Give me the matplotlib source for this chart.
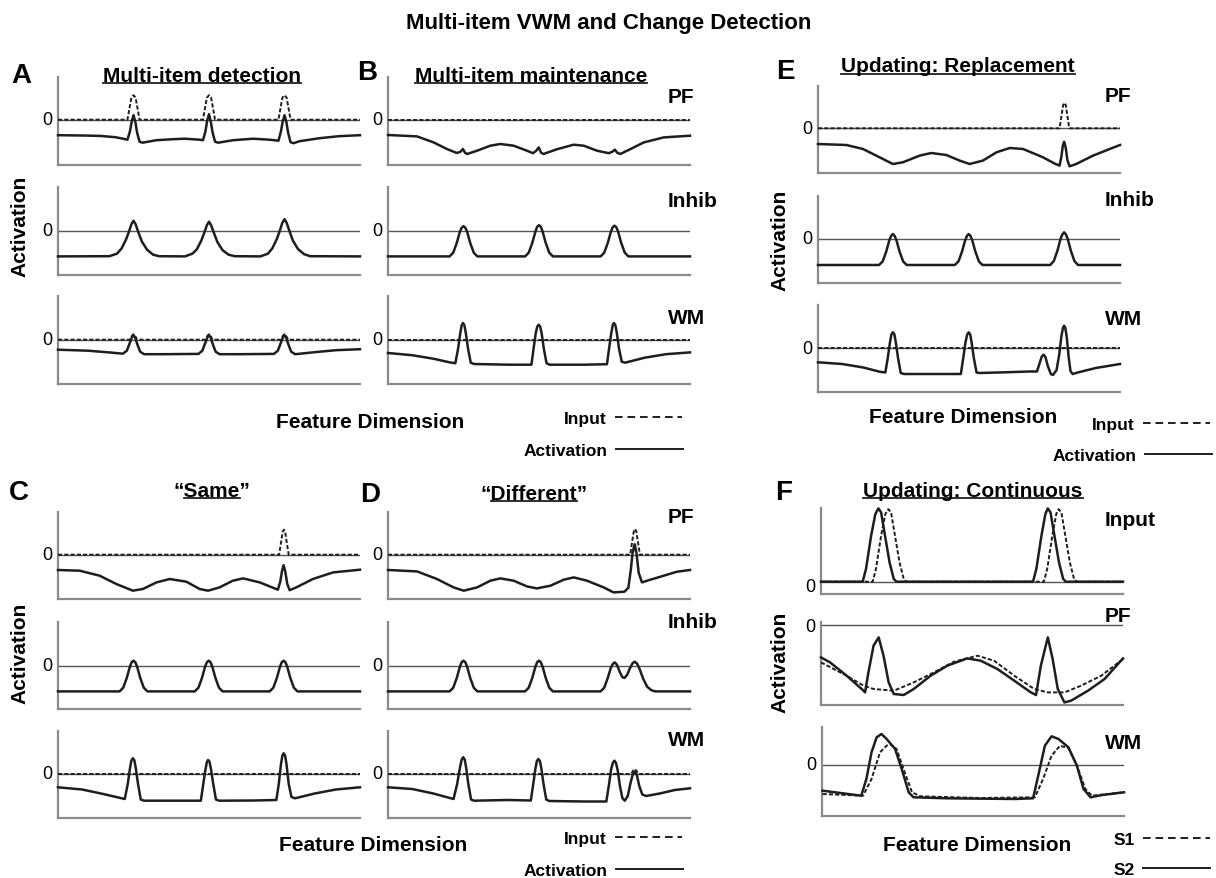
import matplotlib
matplotlib.use('Agg')
import matplotlib.pyplot as plt
from matplotlib.lines import Line2D

plt.rcParams['font.family'] = ['Liberation Sans', 'DejaVu Sans']
plt.rcParams['lines.scale_dashes'] = False

W, H = 1216, 879
INK = '#1e1e1e'
SPINE = '#8a8a8a'
ZERO = '#555555'

# ---- curve data: (feature position 0..100, activation) ----
FLAT = [(0, 0), (100, 0)]

# A: multi-item detection
A_PF_ACT = [(0, -1.55), (8, -1.58), (14, -1.62), (19, -1.75), (21.5, -1.9), (23.0, -2.0), (23.8, -1.2),
            (24.4, -0.2), (25.0, 0.45), (25.6, -0.2), (26.2, -1.3), (27.0, -2.2), (28.0, -2.3), (32.6, -2.05),
            (38, -1.95), (42, -1.9), (46.9, -2.0), (48.0, -2.05), (48.8, -1.2), (49.4, -0.1), (50.0, 0.55),
            (50.6, -0.2), (51.2, -1.3), (52.0, -2.2), (53.0, -2.3), (58, -2.05), (64.6, -1.9), (70, -2.0),
            (73.0, -2.1), (73.8, -1.2), (74.4, -0.2), (75.0, 0.45), (75.6, -0.2), (76.2, -1.3), (77.0, -2.25),
            (78.0, -2.35), (80, -2.15), (86.6, -1.85), (93, -1.65), (100, -1.55)]
A_PF_INP = [(0, 0), (23.0, 0), (23.7, 1.2), (24.3, 2.2), (25.0, 2.45), (25.7, 2.2), (26.3, 1.2), (27.0, 0),
            (48.0, 0), (48.7, 1.2), (49.3, 2.2), (50.0, 2.45), (50.7, 2.2), (51.3, 1.2), (52.0, 0),
            (73.0, 0), (73.7, 1.2), (74.3, 2.2), (75.0, 2.45), (75.7, 2.2), (76.3, 1.2), (77.0, 0), (100, 0)]
A_INH_ACT = [(0, -2.57), (17, -2.55), (19.5, -2.3), (21, -1.8), (22.5, -0.9), (23.5, -0.1), (24.3, 0.65),
             (25, 1.0), (25.7, 0.65), (26.6, -0.15), (27.8, -1.1), (29.5, -1.9), (31.5, -2.4), (33.5, -2.55),
             (42, -2.57), (44.5, -2.3), (46, -1.85), (47.5, -0.95), (48.5, -0.15), (49.3, 0.55), (50, 0.9),
             (50.7, 0.55), (51.6, -0.2), (52.8, -1.15), (54.5, -1.95), (56.5, -2.4), (58.5, -2.55),
             (67, -2.57), (69.5, -2.3), (71, -1.75), (72.5, -0.8), (73.5, 0.05), (74.3, 0.8), (75, 1.15),
             (75.7, 0.8), (76.6, 0.0), (77.8, -1.0), (79.5, -1.85), (81.5, -2.35), (83.5, -2.55), (100, -2.57)]
A_WM_ACT = [(0, -1.0), (10, -1.1), (18, -1.3), (21.5, -1.4), (22.8, -1.1), (23.8, -0.3), (24.5, 0.25),
            (25, 0.45), (25.5, 0.25), (26.2, -0.4), (27.2, -1.2), (28.5, -1.45), (35, -1.45), (46.5, -1.42),
            (47.8, -1.1), (48.8, -0.3), (49.5, 0.25), (50, 0.45), (50.5, 0.25), (51.2, -0.4), (52.2, -1.2),
            (53.5, -1.45), (60, -1.45), (71.5, -1.42), (72.8, -1.1), (73.8, -0.3), (74.5, 0.25), (75, 0.45),
            (75.5, 0.25), (76.2, -0.4), (77.2, -1.2), (78.5, -1.45), (85, -1.25), (92, -1.05), (100, -0.95)]
A_WM_INP = [(0, 0), (23.8, 0), (24.5, 0.4), (25, 0.55), (25.5, 0.4), (26.2, 0), (48.8, 0), (49.5, 0.4),
            (50, 0.55), (50.5, 0.4), (51.2, 0), (73.8, 0), (74.5, 0.4), (75, 0.55), (75.5, 0.4), (76.2, 0),
            (100, 0)]

# B: multi-item maintenance
B_PF_ACT = [(0, -1.53), (9.6, -1.67), (15.1, -2.27), (19.5, -2.93), (22.8, -3.33), (24.0, -3.2),
            (24.8, -2.93), (25.5, -3.3), (26.2, -3.43), (29.5, -3.1), (33.9, -2.6), (37.2, -2.43),
            (41.6, -2.6), (46, -3.1), (48, -3.35), (49.1, -3.1), (49.9, -2.77), (50.7, -3.3), (51.5, -3.43),
            (56, -2.95), (61.5, -2.5), (64.8, -2.6), (69.2, -3.1), (73.1, -3.35), (74.3, -3.2), (75.1, -3.0),
            (75.9, -3.3), (76.9, -3.43), (80.2, -2.95), (84.7, -2.27), (91.3, -1.77), (100, -1.6)]
B_INH_ACT = [(0, -2.57), (20.4, -2.57), (21.6, -2.2), (22.8, -1.2), (23.8, -0.1), (24.4, 0.3), (25, 0.45),
             (25.6, 0.3), (26.2, -0.1), (27.2, -1.2), (28.4, -2.2), (29.6, -2.57), (45.4, -2.57), (46.6, -2.2),
             (47.8, -1.2), (48.8, -0.1), (49.4, 0.4), (50, 0.55), (50.6, 0.4), (51.2, -0.1), (52.2, -1.2),
             (53.4, -2.2), (54.6, -2.57), (70.4, -2.57), (71.6, -2.2), (72.8, -1.2), (73.8, -0.1), (74.4, 0.35),
             (75, 0.5), (75.6, 0.35), (76.2, -0.1), (77.2, -1.2), (78.4, -2.2), (79.6, -2.57), (100, -2.57)]
B_WM_ACT = [(0, -1.33), (8, -1.55), (15, -1.9), (20.5, -2.27), (22.3, -2.35), (23.2, -0.9), (23.9, 0.6),
            (24.4, 1.45), (24.8, 1.67), (25.3, 1.45), (25.8, 0.6), (26.5, -0.9), (27.4, -2.3), (28.5, -2.43),
            (40, -2.5), (47.5, -2.5), (48.2, -0.9), (48.9, 0.6), (49.4, 1.3), (49.9, 1.5), (50.4, 1.3),
            (50.9, 0.6), (51.6, -0.9), (52.5, -2.35), (53.5, -2.5), (65, -2.5), (72.5, -2.45), (73.2, -0.9),
            (73.9, 0.6), (74.4, 1.45), (74.8, 1.67), (75.3, 1.45), (75.8, 0.6), (76.5, -0.9), (77.4, -2.2),
            (78.5, -2.3), (85, -1.8), (92, -1.45), (100, -1.27)]

# C: "Same"
C_PF_ACT = [(0, -1.53), (7.2, -1.6), (13.8, -2.1), (19.3, -2.93), (24.8, -3.6), (28.1, -3.43), (32.6, -2.77),
            (37, -2.43), (42.5, -2.7), (46.9, -3.43), (49.7, -3.6), (53.5, -3.27), (57.9, -2.6), (61.3, -2.37),
            (66.8, -2.77), (72.8, -3.5), (73.6, -2.7), (74.2, -1.6), (74.7, -1.05), (75.2, -1.6), (75.9, -2.9),
            (76.7, -3.55), (78.9, -3.27), (84.4, -2.43), (91.1, -1.77), (100, -1.5)]
C_PF_INP = [(0, 0), (73.2, 0), (73.9, 1.3), (74.4, 2.3), (74.8, 2.5), (75.2, 2.3), (75.7, 1.3), (76.4, 0),
            (100, 0)]
C_INH_ACT = [(0, -2.57), (20.4, -2.57), (21.6, -2.2), (22.8, -1.2), (23.8, -0.1), (24.4, 0.35), (25, 0.5),
             (25.6, 0.35), (26.2, -0.1), (27.2, -1.2), (28.4, -2.2), (29.6, -2.57), (45.3, -2.57), (46.5, -2.2),
             (47.7, -1.2), (48.7, -0.1), (49.3, 0.35), (49.9, 0.5), (50.5, 0.35), (51.1, -0.1), (52.1, -1.2),
             (53.3, -2.2), (54.5, -2.57), (70.1, -2.57), (71.3, -2.2), (72.5, -1.2), (73.5, -0.1), (74.1, 0.35),
             (74.7, 0.5), (75.3, 0.35), (75.9, -0.1), (76.9, -1.2), (78.1, -2.2), (79.3, -2.57), (100, -2.57)]
C_WM_ACT = [(0, -1.33), (8, -1.55), (15, -2.0), (22.1, -2.5), (23.1, -1.0), (23.8, 0.5), (24.3, 1.35),
            (24.8, 1.57), (25.3, 1.35), (25.8, 0.5), (26.5, -1.0), (27.4, -2.55), (28.5, -2.67), (40, -2.67),
            (47.3, -2.67), (48.1, -1.0), (48.8, 0.4), (49.3, 1.2), (49.7, 1.4), (50.2, 1.2), (50.7, 0.4),
            (51.4, -1.0), (52.3, -2.55), (53.3, -2.67), (65, -2.65), (72.3, -2.6), (73.1, -1.0), (73.8, 0.9),
            (74.3, 1.85), (74.7, 2.07), (75.2, 1.85), (75.7, 0.9), (76.4, -1.0), (77.3, -2.3), (78.5, -2.43),
            (85, -1.95), (92, -1.55), (100, -1.33)]

# D: "Different"
D_PF_ACT = [(0, -1.53), (9.6, -1.67), (16.2, -2.43), (21.7, -3.27), (25.1, -3.6), (29.5, -3.27), (33.9, -2.6),
            (37.2, -2.37), (41.6, -2.6), (46, -3.17), (49.3, -3.37), (53.8, -3.1), (58.2, -2.5), (61.5, -2.27),
            (65.9, -2.6), (71.4, -3.27), (74.7, -3.77), (78.3, -3.7), (79.6, -3.3), (80.4, -1.5), (81.0, 0.2),
            (81.7, 1.05), (82.3, 0.1), (83.0, -1.8), (84.1, -2.77), (85.8, -2.6), (91.3, -2.1), (95.7, -1.7),
            (100, -1.53)]
D_PF_INP = [(0, 0), (80.2, 0), (80.9, 1.4), (81.4, 2.35), (81.8, 2.57), (82.2, 2.35), (82.7, 1.4), (83.4, 0),
            (100, 0)]
D_INH_ACT = [(0, -2.57), (20.4, -2.57), (21.6, -2.2), (22.8, -1.2), (23.8, -0.1), (24.4, 0.35), (25, 0.5),
             (25.6, 0.35), (26.2, -0.1), (27.2, -1.2), (28.4, -2.2), (29.6, -2.57), (45.4, -2.57), (46.6, -2.2),
             (47.8, -1.2), (48.8, -0.1), (49.4, 0.35), (50, 0.5), (50.6, 0.35), (51.2, -0.1), (52.2, -1.2),
             (53.4, -2.2), (54.6, -2.57), (70.4, -2.57), (71.6, -2.2), (72.8, -1.2), (73.8, -0.2), (74.5, 0.2),
             (75.1, 0.33), (75.8, 0.1), (76.7, -0.6), (77.6, -1.15), (78.3, -1.23), (79.2, -0.9), (80.2, -0.2),
             (81.0, 0.25), (81.7, 0.4), (82.5, 0.2), (83.4, -0.4), (84.5, -1.3), (85.8, -2.1), (87.2, -2.45),
             (88.5, -2.57), (100, -2.57)]
D_WM_ACT = [(0, -1.33), (8, -1.5), (15, -1.95), (21.7, -2.5), (22.9, -1.0), (23.8, 0.6), (24.4, 1.45),
            (24.9, 1.67), (25.4, 1.45), (25.9, 0.6), (26.6, -1.0), (27.5, -2.55), (28.5, -2.67), (40, -2.6),
            (47.3, -2.65), (48.1, -1.0), (48.8, 0.5), (49.3, 1.3), (49.8, 1.5), (50.3, 1.3), (50.8, 0.5),
            (51.5, -1.0), (52.4, -2.55), (53.4, -2.7), (65, -2.75), (72.3, -2.75), (73.2, -1.0), (73.9, 0.5),
            (74.5, 1.15), (75.0, 1.33), (75.5, 1.1), (76.1, 0.3), (76.8, -1.2), (77.6, -2.4), (78.4, -2.67),
            (79.4, -2.2), (80.3, -0.9), (81.0, -0.1), (81.7, 0.23), (82.4, -0.1), (83.2, -1.2), (84.2, -2.05),
            (85.5, -2.2), (90, -1.95), (95, -1.6), (100, -1.43)]
D_WM_INP = [(0, 0), (80.5, 0), (81.2, 0.35), (81.7, 0.5), (82.2, 0.35), (82.9, 0), (100, 0)]

# E: updating, replacement
E_PF_ACT = [(0, -1.57), (9.4, -1.67), (14.9, -2.07), (20.4, -2.9), (24.8, -3.57), (28.1, -3.4), (33.7, -2.73),
            (37.5, -2.47), (42.5, -2.67), (46.9, -3.23), (50.2, -3.57), (54.6, -3.23), (59.1, -2.4),
            (63.5, -1.97), (67.9, -2.07), (74.5, -2.9), (78.5, -3.55), (80.0, -3.73), (80.6, -2.8),
            (81.1, -1.7), (81.5, -1.35), (82.0, -1.9), (82.6, -3.2), (83.3, -3.8), (85.5, -3.57),
            (91.1, -2.73), (96.6, -2.07), (100, -1.67)]
E_PF_INP = [(0, 0), (80.0, 0), (80.7, 1.4), (81.2, 2.35), (81.6, 2.55), (82.0, 2.35), (82.5, 1.4), (83.2, 0),
            (100, 0)]
E_INH_ACT = [(0, -2.6), (20.2, -2.6), (21.4, -2.25), (22.6, -1.25), (23.6, -0.15), (24.2, 0.3), (24.8, 0.5),
             (25.4, 0.3), (26.0, -0.15), (27.0, -1.25), (28.2, -2.25), (29.4, -2.6), (45.3, -2.6), (46.5, -2.25),
             (47.7, -1.25), (48.7, -0.15), (49.3, 0.3), (49.9, 0.5), (50.5, 0.3), (51.1, -0.15), (52.1, -1.25),
             (53.3, -2.25), (54.5, -2.6), (76.9, -2.6), (78.1, -2.2), (79.3, -1.15), (80.3, 0.0), (80.9, 0.45),
             (81.5, 0.67), (82.1, 0.45), (82.7, 0.0), (83.7, -1.15), (84.9, -2.2), (86.1, -2.6), (100, -2.6)]
E_WM_ACT = [(0, -1.43), (8, -1.6), (15, -1.95), (20.4, -2.37), (22.3, -2.45), (23.1, -1.0), (23.8, 0.5),
            (24.3, 1.35), (24.8, 1.57), (25.3, 1.35), (25.8, 0.5), (26.5, -1.0), (27.4, -2.5), (28.5, -2.6),
            (40, -2.6), (47.3, -2.6), (48.1, -1.0), (48.8, 0.5), (49.4, 1.35), (49.9, 1.57), (50.4, 1.35),
            (50.9, 0.5), (51.6, -1.0), (52.5, -2.45), (53.5, -2.5), (62, -2.43), (70, -2.35), (72.5, -2.35),
            (73.4, -1.5), (74.1, -0.85), (74.7, -0.67), (75.3, -0.9), (76.1, -1.8), (77.1, -2.6), (77.8, -2.7),
            (79.0, -2.2), (79.9, -0.6), (80.6, 1.2), (81.1, 2.0), (81.5, 2.23), (81.9, 2.0), (82.4, 1.0),
            (83.0, -0.9), (83.6, -2.3), (84.3, -2.6), (86, -2.45), (92, -2.0), (100, -1.6)]

# F: updating, continuous (S1 dashed, S2 solid)
F_IN_S1 = [(0, 0), (17.1, 0), (18.2, 1.27), (19.9, 4.6), (21.3, 6.77), (22.3, 7.25), (23.2, 6.93), (24.5, 4.6),
           (26.0, 1.93), (27.4, 0.27), (28.3, 0), (73.8, 0), (74.9, 1.27), (76.6, 4.6), (77.9, 6.77),
           (78.7, 7.25), (79.6, 6.93), (80.9, 4.6), (82.4, 1.93), (83.8, 0.27), (84.7, 0), (100, 0)]
F_IN_S2 = [(0, 0), (13.8, 0), (14.9, 1.27), (16.6, 4.6), (18.0, 6.77), (19.0, 7.33), (19.9, 6.93), (21.2, 4.6),
           (22.7, 1.93), (24.1, 0.27), (25.0, 0), (70.2, 0), (71.3, 1.27), (73.0, 4.6), (74.3, 6.77),
           (75.1, 7.33), (76.0, 6.93), (77.3, 4.6), (78.8, 1.93), (80.2, 0.27), (81.1, 0), (100, 0)]
F_PF_S1 = [(0, -3.77), (8.5, -5.1), (14.1, -6.1), (17.4, -6.43), (24.1, -6.6), (30.7, -5.77), (37.4, -4.77),
           (44, -3.7), (51.8, -3.1), (57.3, -3.6), (64, -5.1), (70.6, -6.43), (75.1, -6.77), (80.6, -6.77),
           (86.1, -6.1), (92.8, -5.1), (100, -3.43)]
F_PF_S2 = [(0, -3.27), (3, -3.77), (8.5, -5.1), (14.1, -6.6), (14.6, -6.77), (15.7, -4.77), (17.4, -2.1),
           (19.1, -1.27), (20.7, -3.1), (22.4, -5.77), (24.1, -6.93), (27.4, -7.03), (30.7, -6.43),
           (36.3, -5.1), (41.8, -4.1), (48.4, -3.37), (52.9, -3.6), (58.4, -4.43), (64, -5.6), (69.5, -6.77),
           (71.2, -7.03), (72.8, -4.1), (75.1, -1.27), (76.7, -3.43), (78.4, -6.43), (80.6, -7.77),
           (82.8, -7.6), (88.4, -6.6), (93.9, -5.43), (100, -3.37)]
F_WM_S1 = [(0.2, -2.9), (13.6, -3.07), (16.4, -1.4), (19.2, 1.27), (21.4, 1.93), (22.5, 2.1), (24.7, 1.6),
           (27, -0.4), (29.8, -2.73), (32.6, -3.13), (52.6, -3.3), (70.5, -3.23), (73.2, -1.4), (76, 0.93),
           (78.8, 1.93), (81.6, 1.67), (84.4, -0.07), (87.2, -2.4), (89.4, -3.07), (100, -2.73)]
F_WM_S2 = [(0.2, -2.57), (13, -3.07), (14.7, -1.4), (16.4, 1.27), (18.1, 2.77), (19.7, 3.1), (21.4, 2.6),
           (24.2, 1.6), (26.4, -0.4), (28.7, -2.73), (30.3, -3.23), (41.5, -3.33), (63.8, -3.4), (69.9, -3.33),
           (71.6, -1.07), (73.8, 1.93), (76, 2.87), (78.3, 2.6), (81.6, 1.77), (84.4, -0.07), (86.6, -2.4),
           (88.9, -3.23), (92.8, -3.0), (100, -2.73)]

fig = plt.figure(figsize=(W / 100, H / 100), dpi=100)
fig.patch.set_facecolor('white')


def fx(px):
    return px / W


def fy(py):
    return 1 - py / H


def make_axes(left, top, bottom, zero, label_dy=0.0):
    """One field plot; top/zero/bottom are pixel rows, y data is in 10 px units"""
    ax = fig.add_axes([fx(left), fy(bottom), 302 / W, (bottom - top) / H])
    ax.set_xlim(0, 100)
    ax.set_ylim(-(bottom - zero) / 10, (zero - top) / 10)
    for side in ('top', 'right'):
        ax.spines[side].set_visible(False)
    for side in ('left', 'bottom'):
        ax.spines[side].set_color(SPINE)
        ax.spines[side].set_linewidth(1.6)
    ax.set_xticks([])
    ax.set_yticks([])
    ax.patch.set_alpha(0)
    ax.axhline(0, color=ZERO, lw=1.0, zorder=1)
    ax.text(-0.017, label_dy, '0', transform=ax.get_yaxis_transform(),
            ha='right', va='center', fontsize=13)
    return ax


def curve(ax, pts, dashed=False):
    xs = [p[0] for p in pts]
    ys = [p[1] for p in pts]
    if dashed:
        ax.plot(xs, ys, color=INK, lw=1.4, dashes=(3, 1.5), clip_on=False, zorder=3)
    else:
        ax.plot(xs, ys, color=INK, lw=1.8, clip_on=False, zorder=4)


def label(x, y, s, size=15, ha='left', **kw):
    return fig.text(fx(x), fy(y), s, fontsize=size, fontweight='bold', ha=ha, va='baseline', **kw)


def measure(s, size=15):
    t = fig.text(0, 0, s, fontsize=size, fontweight='bold')
    w = t.get_window_extent(fig.canvas.get_renderer()).width
    t.remove()
    return w


def underlined(x, y, s, lead='', trail=''):
    t = label(x, y, lead + s + trail, ha='center')
    bb = t.get_window_extent(fig.canvas.get_renderer())
    x0 = bb.x0 + (measure(lead) if lead else 0)
    x1 = bb.x1 - (measure(trail) if trail else 0)
    fig.add_artist(Line2D([x0 / W, x1 / W], [fy(y + 2.2)] * 2, transform=fig.transFigure,
                          color=INK, lw=1.3))


def legend_entry(xtext, y, s, dashed):
    label(xtext, y, s, size=12.5, ha='right')
    ln = Line2D([fx(xtext + 8), fx(xtext + 75)], [fy(y - 6)] * 2, transform=fig.transFigure,
                color=INK, lw=1.4)
    if dashed:
        ln.set_dashes((5.5, 3.5))
    fig.add_artist(ln)


# ---- three-layer panels A-E ----
rows_ab = [(78, 120.7, 166), (188, 231.7, 276), (297, 340.7, 385)]
rows_e = [(86.7, 129.3, 174), (196.7, 240, 284), (306, 349, 392.7)]
rows_cd = [(512.7, 555.7, 600), (623, 666.7, 710), (731.7, 775, 819.3)]

panels = [
    (58, rows_ab, [(A_PF_ACT, A_PF_INP), (A_INH_ACT, None), (A_WM_ACT, A_WM_INP)]),
    (388, rows_ab, [(B_PF_ACT, FLAT), (B_INH_ACT, None), (B_WM_ACT, FLAT)]),
    (818, rows_e, [(E_PF_ACT, E_PF_INP), (E_INH_ACT, None), (E_WM_ACT, FLAT)]),
    (58, rows_cd, [(C_PF_ACT, C_PF_INP), (C_INH_ACT, None), (C_WM_ACT, FLAT)]),
    (388, rows_cd, [(D_PF_ACT, D_PF_INP), (D_INH_ACT, None), (D_WM_ACT, D_WM_INP)]),
]
for left, rows, layers in panels:
    for (top, zero, bottom), (act, inp) in zip(rows, layers):
        ax = make_axes(left, top, bottom, zero)
        if inp is not None:
            curve(ax, inp, dashed=True)
        curve(ax, act)

# ---- panel F ----
ax = make_axes(821, 509, 595, 582.7, label_dy=-0.5)
curve(ax, F_IN_S1, dashed=True)
curve(ax, F_IN_S2)
ax = make_axes(821, 623.3, 706, 625.7, label_dy=-0.2)
curve(ax, F_PF_S1, dashed=True)
curve(ax, F_PF_S2)
ax = make_axes(822, 728, 816.7, 766)
curve(ax, F_WM_S1, dashed=True)
curve(ax, F_WM_S2)

# ---- text ----
fig.text(fx(609), fy(29), 'Multi-item VWM and Change Detection', fontsize=16, fontweight='bold',
         ha='center', va='baseline')

for letter, x, y in [('A', 21, 76), ('B', 367, 73), ('E', 785, 72),
                     ('C', 19, 493), ('D', 370, 495), ('F', 784, 493)]:
    fig.text(fx(x), fy(y), letter, fontsize=20, fontweight='bold', ha='center', va='center')

underlined(202, 82, 'Multi-item detection')
underlined(531, 81.7, 'Multi-item maintenance')
underlined(958, 72.5, 'Updating: Replacement')
underlined(212, 497, 'Same', lead='\u201c', trail='\u201d')
underlined(534, 500, 'Different', lead='\u201c', trail='\u201d')
underlined(973, 497, 'Updating: Continuous')

for s, x, y in [('PF', 668, 103), ('Inhib', 668, 207), ('WM', 668, 324),
                ('PF', 1105, 102), ('Inhib', 1105, 206), ('WM', 1105, 325),
                ('PF', 668, 523), ('Inhib', 668, 628), ('WM', 668, 746),
                ('Input', 1105, 526), ('PF', 1105, 622), ('WM', 1105, 749)]:
    label(x, y, s)

for x, y in [(20, 226), (20, 653), (780, 240), (780, 662)]:
    fig.text(fx(x), fy(y), 'Activation', fontsize=15, fontweight='bold', rotation=90,
             ha='center', va='center')

for x, y in [(370, 428), (373, 851), (963, 423), (977, 851)]:
    label(x, y, 'Feature Dimension', ha='center')

legend_entry(607, 424, 'Input', True)
legend_entry(608, 456, 'Activation', False)
legend_entry(607, 844, 'Input', True)
legend_entry(608, 876, 'Activation', False)
legend_entry(1135, 430, 'Input', True)
legend_entry(1137, 461, 'Activation', False)
legend_entry(1135, 845, 'S1', True)
legend_entry(1135, 875, 'S2', False)

fig.savefig('out.png', dpi=100, facecolor='white')
